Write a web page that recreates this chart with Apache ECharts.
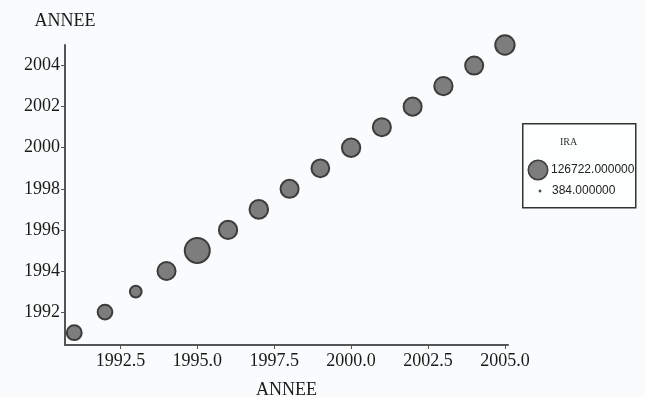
<!DOCTYPE html>
<html>
<head>
<meta charset="utf-8">
<script src="https://cdn.jsdelivr.net/npm/echarts@6/dist/echarts.min.js"></script>
<style>
html,body{margin:0;padding:0;background:#f9fbfc;}
#chart{width:645px;height:397px;}
</style>
</head>
<body>
<div id="chart"></div>
<script>
// Data
const years = [1991,1992,1993,1994,1995,1996,1997,1998,1999,2000,2001,2002,2003,2004,2005];
const ira   = [45000,44000,28000,66000,126722,68000,70000,66000,64000,68000,66000,66000,68000,66000,76000];
const xTicks = [1992.5,1995.0,1997.5,2000.0,2002.5,2005.0];
const yTicks = [1992,1994,1996,1998,2000,2002,2004];
const legendTitle = 'IRA';
const legendMax = 126722;
const legendMin = 384;

const maxDiam = 25;
function sizeOf(v){ return maxDiam*Math.sqrt(v/legendMax); }

const points = years.map((y,i)=>[y,y,ira[i]]);
const axisColor = '#555';
const serif = '"Liberation Serif","DejaVu Serif",serif';
const sans = '"Liberation Sans",Arial,sans-serif';

const chart = echarts.init(document.getElementById('chart'));
chart.setOption({
  backgroundColor:'#f9fbfc',
  animation:false,
  grid:{left:65, top:45, right:137, bottom:52, containLabel:false, outerBoundsMode:'none'},
  xAxis:{
    type:'value', min:1990.7, max:2005.1,
    name:'ANNEE', nameLocation:'middle', nameGap:36,
    nameTextStyle:{fontFamily:serif, fontSize:18, color:'#1a1a1a'},
    axisLine:{show:true, lineStyle:{color:axisColor, width:2}},
    axisTick:{show:true, length:4, customValues:xTicks, lineStyle:{color:axisColor}},
    axisLabel:{customValues:xTicks, fontFamily:serif, fontSize:18, color:'#1a1a1a', margin:7,
      formatter:v=>Number(v).toFixed(1)},
    splitLine:{show:false}
  },
  yAxis:{
    type:'value', min:1990.4, max:2005,
    name:'ANNEE', nameLocation:'end', nameGap:15,
    nameTextStyle:{fontFamily:serif, fontSize:18, color:'#1a1a1a', align:'center'},
    axisLine:{show:true, lineStyle:{color:axisColor, width:2}},
    axisTick:{show:true, length:4, customValues:yTicks, lineStyle:{color:axisColor}},
    axisLabel:{customValues:yTicks, fontFamily:serif, fontSize:18, color:'#1a1a1a', margin:5,
      formatter:v=>String(Math.round(v))},
    splitLine:{show:false}
  },
  series:[{
    type:'scatter',
    data:points,
    symbolSize:d=>sizeOf(d[2]),
    itemStyle:{color:'#7d7d7d', borderColor:'#3c3c3c', borderWidth:2, opacity:1}
  }],
  graphic:[
    {type:'rect', left:522, top:123, shape:{width:113, height:84},
      style:{fill:'#fdfefe', stroke:'#333', lineWidth:1.5}},
    {type:'text', left:560, top:137, style:{text:legendTitle, fontFamily:serif, fontSize:10, fill:'#333'}},
    {type:'circle', shape:{cx:538, cy:170, r:sizeOf(legendMax)*0.39},
      style:{fill:'#7d7d7d', stroke:'#3c3c3c', lineWidth:1.5}},
    {type:'text', left:551, top:164, style:{text:legendMax.toFixed(6), fontFamily:sans, fontSize:12, fill:'#222'}},
    {type:'circle', shape:{cx:540, cy:191, r:Math.max(1.2,sizeOf(legendMin)/2)},
      style:{fill:'#555', stroke:'#444', lineWidth:0.5}},
    {type:'text', left:552, top:185, style:{text:legendMin.toFixed(6), fontFamily:sans, fontSize:12, fill:'#222'}}
  ]
});
</script>
</body>
</html>
